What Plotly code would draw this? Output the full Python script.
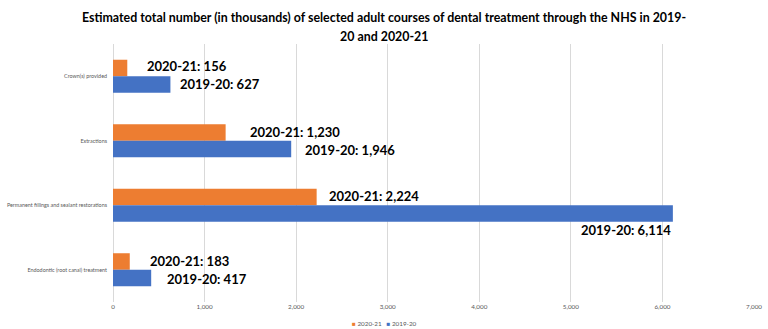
import plotly.graph_objects as go

# Treatment categories, top to bottom
categories = [
    "Crown(s) provided",
    "Extractions",
    "Permanent fillings and sealant restorations",
    "Endodontic (root canal) treatment",
]
# Courses of treatment, thousands
values_2021 = [156, 1230, 2224, 183]
values_1920 = [627, 1946, 6114, 417]
series_names = ["2020-21", "2019-20"]
title_lines = [
    "Estimated total number (in thousands) of selected adult courses of dental "
    "treatment through the NHS in 2019-",
    "20 and 2020-21",
]

ORANGE = "#ED7D31"
BLUE = "#4472C4"
LABEL_FONT = dict(family="Lato", size=13, color="#000000")
SMALL_FONT = dict(family="Lato", size=6.3, color="#595959")
CATEGORY_FONT = dict(family="Lato", size=5.4, color="#595959")
PAGE_CENTRE = 0.4228  # page centre expressed in plot-area (paper) units

fig = go.Figure()
fig.add_trace(go.Bar(
    y=categories, x=values_2021, name=series_names[0], orientation="h",
    marker=dict(color=ORANGE, line=dict(width=0)),
))
fig.add_trace(go.Bar(
    y=categories, x=values_1920, name=series_names[1], orientation="h",
    marker=dict(color=BLUE, line=dict(width=0)),
))

# Per-bar data labels: (xanchor, xshift, yshift) for the 2020-21 and 2019-20 bars
label_style_2021 = [("left", 18, 10), ("left", 22, 9), ("left", 10, 9), ("left", 18, 9)]
label_style_1920 = [("left", 8, -8), ("left", 12, -9), ("right", 0, -25), ("left", 14, -9)]

for cat, v, (xa, xs, ys) in zip(categories, values_2021, label_style_2021):
    fig.add_annotation(
        x=v, y=cat, text=f"<b>{series_names[0]}: {v:,}</b>", showarrow=False,
        xanchor=xa, yanchor="middle", xshift=xs, yshift=ys, font=LABEL_FONT,
    )
for cat, v, (xa, xs, ys) in zip(categories, values_1920, label_style_1920):
    fig.add_annotation(
        x=v, y=cat, text=f"<b>{series_names[1]}: {v:,}</b>", showarrow=False,
        xanchor=xa, yanchor="middle", xshift=xs, yshift=ys, font=LABEL_FONT,
    )

# Chart title, two centred lines
for line, shift in zip(title_lines, [27, 8]):
    fig.add_annotation(
        xref="paper", yref="paper", x=PAGE_CENTRE, y=1, yshift=shift,
        xanchor="center", yanchor="middle", text=f"<b>{line}</b>", showarrow=False,
        font=dict(family="Lato", size=12.4, color="#000000"),
    )

# Compact legend with small colour swatches below the axis
legend_text = "   ".join(
    f"<span style='color:{c}'>■</span> {n}" for c, n in zip([ORANGE, BLUE], series_names)
)
fig.add_annotation(
    xref="paper", yref="paper", x=PAGE_CENTRE, y=0, yshift=-21,
    xanchor="center", yanchor="middle",
    text=legend_text, showarrow=False, font=SMALL_FONT,
)

fig.update_layout(
    width=768, height=329,
    margin=dict(l=113, r=14, t=44, b=27),
    paper_bgcolor="white", plot_bgcolor="white",
    barmode="group", bargap=0.488, bargroupgap=0,
    showlegend=False,
    xaxis=dict(
        range=[0, 7000], dtick=1000, tickformat=",", automargin=False,
        showgrid=True, gridcolor="#D9D9D9", gridwidth=1,
        zeroline=True, zerolinecolor="#D9D9D9", zerolinewidth=1,
        showline=False, ticks="",
        tickfont=SMALL_FONT,
    ),
    yaxis=dict(
        autorange="reversed", showgrid=False, showline=False, ticks="",
        automargin=False, ticklabelstandoff=5,
        tickfont=CATEGORY_FONT,
    ),
)

fig.write_html("out.html")
